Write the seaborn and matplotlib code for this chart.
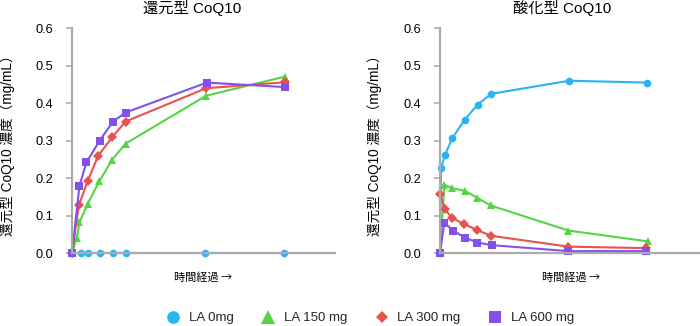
import matplotlib
matplotlib.use("Agg")
import matplotlib.pyplot as plt
from matplotlib.lines import Line2D
import pandas as pd
import seaborn as sns

sns.set_theme(style="white")
plt.rcParams["font.family"] = ["Liberation Sans", "Noto Sans CJK JP", "DejaVu Sans"]

# Series labels and colours
series = ["LA 0mg", "LA 150 mg", "LA 300 mg", "LA 600 mg"]
colors = ["#2AB4F6", "#55D445", "#E8524F", "#8450EA"]
markers = ["o", "^", "D", "s"]

# Reduced CoQ10 (left panel): elapsed time (arbitrary units) and concentration (mg/mL)
red_t_0 = [0, 0.65, 1.2, 2.1, 3.1, 4.1, 10.15, 16.15]
red_v_0 = [0, 0, 0, 0, 0, 0, 0, 0]
red_t_150 = [0, 0.37, 0.57, 1.2, 2.07, 3.05, 4.07, 10.2, 16.2]
red_v_150 = [0, 0.04, 0.082, 0.132, 0.191, 0.249, 0.292, 0.42, 0.471]
red_t_300 = [0, 0.52, 1.2, 2.0, 3.05, 4.07, 10.2, 16.2]
red_v_300 = [0, 0.127, 0.193, 0.26, 0.309, 0.351, 0.44, 0.456]
red_t_600 = [0, 0.57, 1.1, 2.1, 3.12, 4.07, 10.25, 16.2]
red_v_600 = [0, 0.18, 0.242, 0.30, 0.351, 0.375, 0.455, 0.443]

# Oxidized CoQ10 (right panel)
ox_t_0 = [0, 0.08, 0.38, 0.94, 1.88, 2.86, 3.89, 9.83, 15.76]
ox_v_0 = [0, 0.227, 0.262, 0.307, 0.356, 0.396, 0.425, 0.46, 0.455]
ox_t_150 = [0, 0.33, 0.94, 1.9, 2.8, 3.85, 9.76, 15.8]
ox_v_150 = [0, 0.182, 0.173, 0.166, 0.148, 0.127, 0.06, 0.031]
ox_t_300 = [0, 0.38, 0.89, 1.85, 2.84, 3.88, 9.76, 15.7]
ox_v_300 = [0.158, 0.117, 0.094, 0.077, 0.061, 0.046, 0.017, 0.013]
ox_t_600 = [0, 0.33, 0.99, 1.9, 2.84, 3.93, 9.76, 15.7]
ox_v_600 = [0, 0.081, 0.06, 0.041, 0.028, 0.021, 0.005, 0.005]

# Y-axis ticks and text
y_ticks = [0.0, 0.1, 0.2, 0.3, 0.4, 0.5, 0.6]
titles = ["還元型 CoQ10", "酸化型 CoQ10"]
y_label = "還元型 CoQ10 濃度（mg/mL）"
x_label = "時間経過 →"

panels = [
    [(red_t_0, red_v_0), (red_t_150, red_v_150), (red_t_300, red_v_300), (red_t_600, red_v_600)],
    [(ox_t_0, ox_v_0), (ox_t_150, ox_v_150), (ox_t_300, ox_v_300), (ox_t_600, ox_v_600)],
]

marker_sizes = {"o": 5.5, "^": 6.2, "D": 4.8, "s": 6.2}
legend_sizes = {"o": 9.1, "^": 9.4, "D": 6.6, "s": 8.4}
spine_col = "#ABABAB"

fig = plt.figure(figsize=(7.0, 3.26), dpi=100)
ax_rects = [
    [72 / 700, 73 / 326, 263 / 700, 224.7 / 326],
    [440 / 700, 73 / 326, 263 / 700, 224.7 / 326],
]
title_x = [192.5 / 700, 562.5 / 700]
ylabel_x = [7.5 / 700, 375 / 700]

for p, rect in enumerate(ax_rects):
    ax = fig.add_axes(rect)
    for (t, v), name, col, mk in zip(panels[p], series, colors, markers):
        df = pd.DataFrame({"t": t, "value": v})
        sns.lineplot(data=df, x="t", y="value", ax=ax, color=col, marker=mk,
                     markersize=marker_sizes[mk], markeredgewidth=0,
                     linewidth=1.5, estimator=None, sort=True,
                     legend=False, clip_on=False)
    ax.set_xlim(0, 20)
    ax.set_ylim(0, 0.6)
    ax.set_yticks(y_ticks)
    ax.set_yticklabels([f"{y:.1f}" for y in y_ticks])
    ax.set_xticks([])
    ax.set_xlabel("")
    ax.set_ylabel("")
    for side in ["top", "right"]:
        ax.spines[side].set_visible(False)
    for side in ["left", "bottom"]:
        ax.spines[side].set_color(spine_col)
        ax.spines[side].set_linewidth(1.6)
    ax.tick_params(axis="y", which="both", left=True, length=4.2, width=1.2,
                   color=spine_col, pad=9.6, labelsize=9.2, labelcolor="black")
    ax.set_facecolor("none")

    fig.text(title_x[p], 1 - 7.5 / 326, titles[p], ha="center", va="center",
             fontsize=11, color="black")
    fig.text(ylabel_x[p], 1 - 142 / 326, y_label, rotation=90, ha="center",
             va="center", fontsize=9.8, color="black")
    cx = rect[0] + rect[2] / 2
    fig.text(cx, 1 - 277.5 / 326, x_label, ha="center", va="center",
             fontsize=8, color="black", family=["Noto Sans CJK JP", "DejaVu Sans"])

handles = [
    Line2D([], [], linestyle="none", marker=mk, color=col,
           markersize=legend_sizes[mk], markeredgewidth=0)
    for col, mk in zip(colors, markers)
]
fig.legend(handles, series, loc="center", bbox_to_anchor=(0.529, 1 - 318.3 / 326),
           ncol=4, frameon=False, fontsize=9.5, handlelength=1.0,
           handletextpad=0.65, columnspacing=2.15, borderaxespad=0)

fig.savefig("out.png", dpi=100)
